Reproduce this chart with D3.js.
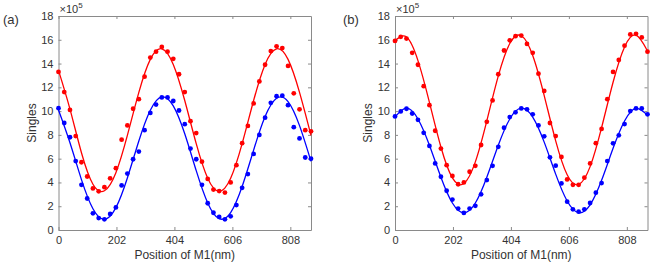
<!DOCTYPE html>
<html>
<head>
<meta charset="utf-8">
<style>
body { margin: 0; background: #fff; }
svg text { font-family: "Liberation Sans", Arial, sans-serif; fill: #333; }
g.axis path, g.axis line { stroke: #8a8a8a; }
</style>
</head>
<body>
<div class="chart"></div>
<script src="https://d3js.org/d3.v7.min.js"></script>
<script>
  // measured positions (nm)
  const positions = [0, 20, 40, 60, 80, 100, 120, 140, 160, 180, 200, 220, 240, 260, 280, 300, 320, 340, 360, 380, 400,
                     420, 440, 460, 480, 500, 520, 540, 560, 580, 600, 620, 640, 660, 680, 700, 720, 740, 760, 780, 800,
                     820, 840, 860, 880];

  // singles, x10^5
  const redA  = [13.3, 11.6, 10.1, 7.9, 5.7, 4.5, 3.5, 3.25, 3.6, 4.35, 5.2, 7.6, 8.8, 10.2, 11.0, 12.9, 14.5, 15.0, 15.4, 15.0, 14.4,
                 13.1, 11.6, 9.15, 8.15, 5.75, 4.3, 3.4, 3.27, 3.15, 4.0, 5.45, 7.3, 8.75, 10.65, 12.5, 13.9, 15.05, 15.45, 15.3, 13.8,
                 11.5, 10.15, 8.4, 8.3];
  const blueA = [10.25, 9.0, 7.8, 5.8, 3.8, 2.65, 1.4, 1.0, 0.9, 1.35, 1.9, 3.75, 4.75, 5.95, 6.6, 8.4, 9.85, 10.55, 11.15, 11.15, 10.85,
                 10.05, 8.9, 6.85, 5.95, 3.8, 2.25, 1.45, 1.1, 0.9, 1.15, 2.1, 3.55, 4.7, 6.4, 8.0, 9.45, 10.7, 11.25, 11.3, 10.5,
                 8.65, 7.7, 6.1, 6.0];
  const redB  = [15.9, 16.25, 16.1, 14.9, 13.9, 12.1, 10.5, 8.35, 6.85, 5.45, 4.55, 3.85, 4.0, 4.9, 5.4, 7.15, 9.1, 10.9, 13.1, 15.1, 15.95,
                 16.3, 16.35, 15.65, 14.9, 13.15, 11.7, 9.0, 7.9, 6.15, 4.25, 3.8, 3.8, 4.4, 5.6, 7.3, 8.5, 11.0, 13.3, 14.3, 15.5,
                 16.45, 16.5, 16.2, 15.0];
  const blueB = [9.55, 9.97, 10.2, 9.8, 9.27, 8.17, 7.07, 5.6, 4.48, 3.3, 2.56, 1.8, 1.44, 1.8, 2.03, 3.0, 4.2, 5.4, 7.0, 8.6, 9.5,
                 9.9, 10.23, 10.15, 9.73, 8.8, 7.88, 6.11, 5.41, 3.92, 2.38, 1.74, 1.54, 1.74, 2.27, 3.14, 3.95, 5.8, 7.29, 7.96, 8.91,
                 10.0, 10.23, 10.23, 9.73];

  // fitted curves
  const fitPositions = [0, 40, 80, 120, 160, 200, 240, 280, 320, 360, 400, 440, 480, 520, 560, 600, 640, 680, 720, 760, 800, 840, 880];
  const fitRedA  = [13.43, 10.17, 6.5, 3.85, 3.3, 4.82, 7.96, 11.58, 14.35, 15.24, 13.93, 10.89, 7.26, 4.35, 3.25, 4.35, 7.26, 10.89, 13.93, 15.24, 14.35, 11.58, 7.96];
  const fitBlueA = [10.1, 7.34, 4.24, 1.79, 0.9, 1.88, 4.38, 7.49, 10.07, 11.19, 10.44, 8.09, 4.99, 2.28, 0.95, 1.47, 3.66, 6.72, 9.54, 11.08, 10.8, 8.78, 5.77];
  const fitRedB  = [15.93, 16.23, 14.25, 10.74, 6.98, 4.38, 3.91, 5.73, 9.18, 12.96, 15.69, 16.34, 14.68, 11.31, 7.5, 4.65, 3.83, 5.33, 8.61, 12.43, 15.4, 16.39, 15.06];
  const fitBlueB = [9.5, 10.25, 9.34, 7.13, 4.44, 2.27, 1.45, 2.27, 4.44, 7.13, 9.34, 10.25, 9.5, 7.39, 4.7, 2.44, 1.46, 2.12, 4.18, 6.87, 9.17, 10.23, 9.65];

  const xTicks = [0, 202, 404, 606, 808];
  const yTicks = [0, 2, 4, 6, 8, 10, 12, 14, 16, 18];

  const svg = d3.select('.chart')
                .append('svg')
                .attr('width', 654)
                .attr('height', 264);

  function drawPanel(opt){
    const top = 16, bottom = 230;
    const x = d3.scaleLinear().domain([0, 880]).range([opt.left, opt.right]);
    const y = d3.scaleLinear().domain([0, 18]).range([bottom, top]);

    const g = svg.append('g');

    // box with inward ticks
    g.append('g').attr('class', 'axis')
      .attr('transform', `translate(0, ${bottom})`)
      .call(d3.axisBottom(x).tickValues(xTicks).tickSizeInner(-3).tickSizeOuter(0).tickPadding(6));
    g.append('g').attr('class', 'axis')
      .attr('transform', `translate(0, ${top})`)
      .call(d3.axisTop(x).tickValues(xTicks).tickSizeInner(-3).tickSizeOuter(0).tickFormat(''));
    g.append('g').attr('class', 'axis')
      .attr('transform', `translate(${opt.left}, 0)`)
      .call(d3.axisLeft(y).tickValues(yTicks).tickSizeInner(-3).tickSizeOuter(0).tickPadding(5));
    g.append('g').attr('class', 'axis')
      .attr('transform', `translate(${opt.right}, 0)`)
      .call(d3.axisRight(y).tickValues(yTicks).tickSizeInner(-3).tickSizeOuter(0).tickFormat(''));

    g.selectAll('.axis text')
      .style('font-size', '11px')
      .style('fill', '#333')
      .attr('font-family', null);

    const line = d3.line()
                   .x((d, i) => x(fitPositions[i]))
                   .y(d => y(d))
                   .curve(d3.curveNatural);

    opt.series.forEach(s => {
      g.append('path')
        .attr('d', line(s.fit))
        .attr('fill', 'none')
        .attr('stroke', s.color)
        .attr('stroke-width', 1.3);

      g.append('g')
        .selectAll('circle')
        .data(s.values)
        .join('circle')
        .attr('cx', (d, i) => x(positions[i]))
        .attr('cy', d => y(d))
        .attr('r', 2.4)
        .attr('fill', s.color);
    });

    // labels
    g.append('text')
      .attr('x', (opt.left + opt.right) / 2)
      .attr('y', 259)
      .attr('text-anchor', 'middle')
      .style('font-size', '12px')
      .text('Position of M1(nm)');

    g.append('text')
      .attr('transform', `translate(${opt.left - 23}, ${(top + bottom) / 2}) rotate(-90)`)
      .attr('text-anchor', 'middle')
      .style('font-size', '12px')
      .text('Singles');

    const ex = g.append('text')
      .attr('x', opt.left + 1)
      .attr('y', 13)
      .style('font-size', '11px')
      .text('×10');
    ex.append('tspan')
      .attr('dy', -5)
      .style('font-size', '8px')
      .text('5');

    g.append('text')
      .attr('x', opt.tag)
      .attr('y', 24)
      .style('font-size', '13px')
      .text(opt.name);
  }

  drawPanel({ left: 58.5, right: 311, tag: 3, name: '(a)',
              series: [{ values: redA, fit: fitRedA, color: '#ff0000' },
                       { values: blueA, fit: fitBlueA, color: '#0000ff' }] });

  drawPanel({ left: 395, right: 647.5, tag: 343, name: '(b)',
              series: [{ values: redB, fit: fitRedB, color: '#ff0000' },
                       { values: blueB, fit: fitBlueB, color: '#0000ff' }] });
</script>
</body>
</html>
